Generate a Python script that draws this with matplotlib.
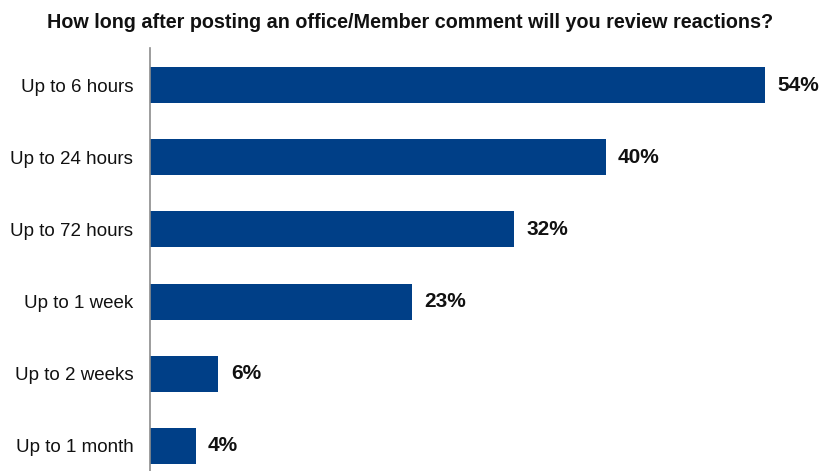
import matplotlib
matplotlib.use("Agg")
import matplotlib.pyplot as plt

categories = ["Up to 6 hours", "Up to 24 hours", "Up to 72 hours",
              "Up to 1 week", "Up to 2 weeks", "Up to 1 month"]
values = [54, 40, 32, 23, 6, 4]
title = "How long after posting an office/Member comment will you review reactions?"

plt.rcParams["font.family"] = ["Liberation Sans Narrow", "Liberation Sans", "DejaVu Sans"]

BAR_COLOR = "#003F87"

fig = plt.figure(figsize=(8.25, 4.71), dpi=100)
ax = fig.add_axes([150 / 825, 0, 675 / 825, (471 - 48) / 471])

ypos = range(len(categories))
ax.barh(ypos, values, height=0.5, color=BAR_COLOR)

# percentage labels just past the end of each bar
for y, v in zip(ypos, values):
    ax.text(v + 1.1, y, f"{v}%", va="center", ha="left",
            fontsize=15, fontweight="bold", color="#111111")

ax.set_xlim(0, 675 / (615 / 54))
ax.set_ylim(5 + 25 / 72, -37 / 72)
ax.set_yticks(list(ypos))
ax.set_yticklabels(categories, fontsize=13.5, color="#111111")
ax.tick_params(axis="y", length=0, pad=12)
ax.set_xticks([])

for side in ("top", "right", "bottom"):
    ax.spines[side].set_visible(False)
ax.spines["left"].set_color("#8c8c8c")
ax.spines["left"].set_linewidth(1.2)

fig.text(410 / 825, 1 - 23 / 471, title, ha="center", va="center",
         fontsize=14.2, fontweight="bold", color="#111111")

fig.savefig("out.png", dpi=100)
